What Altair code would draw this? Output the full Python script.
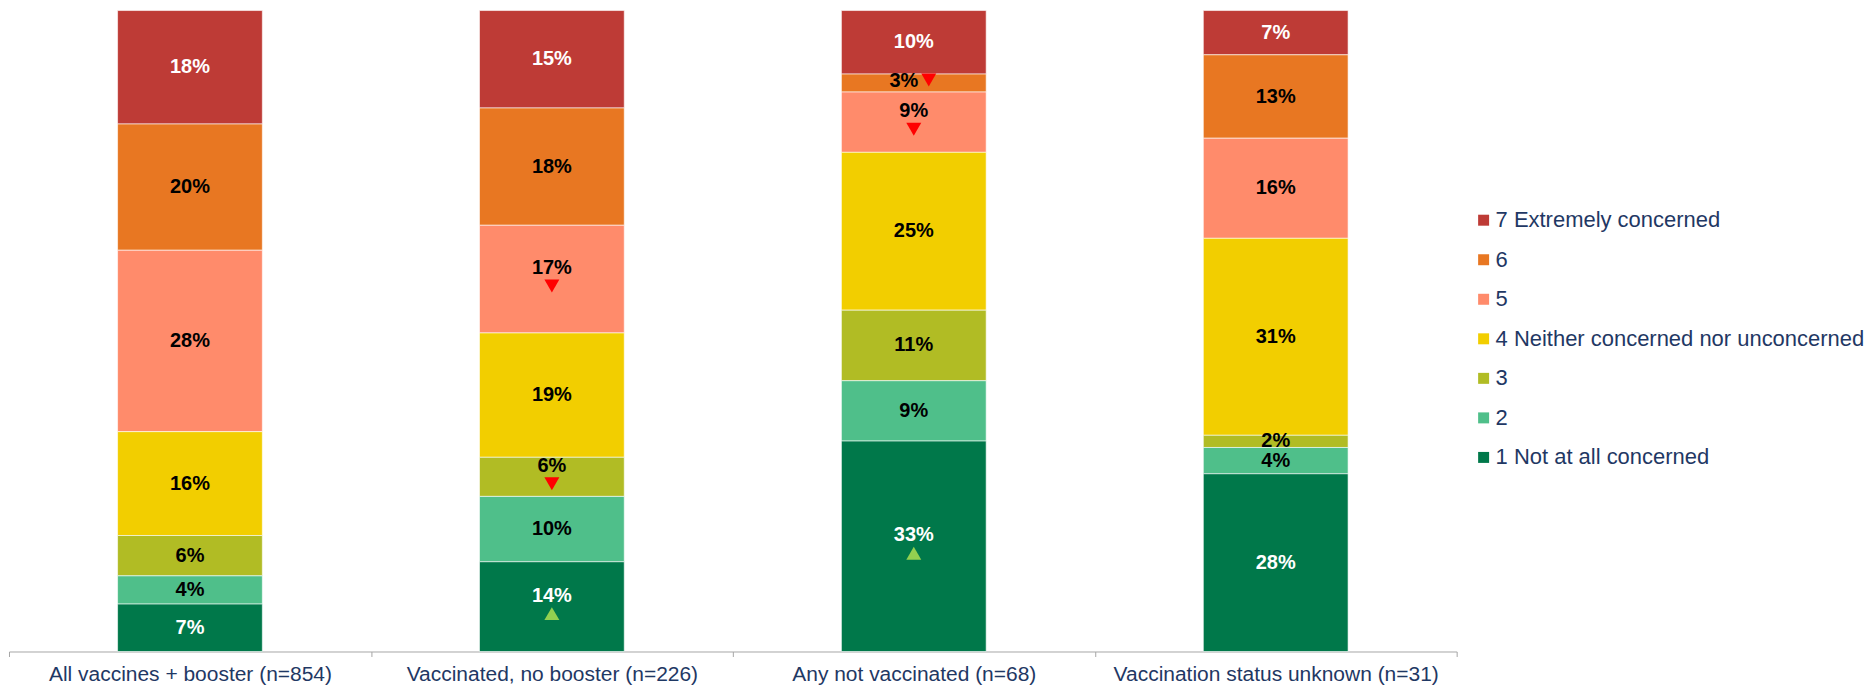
import altair as alt
import pandas as pd

groups = [
    "All vaccines + booster (n=854)",
    "Vaccinated, no booster (n=226)",
    "Any not vaccinated (n=68)",
    "Vaccination status unknown (n=31)",
]
levels = [7, 6, 5, 4, 3, 2, 1]
level_labels = [
    "7 Extremely concerned",
    "6",
    "5",
    "4 Neither concerned nor unconcerned",
    "3",
    "2",
    "1 Not at all concerned",
]
colors = ["#BE3B36", "#E87722", "#FF8B6B", "#F2CE00", "#B1BC24", "#4FBF8A", "#00784A"]

# percentages per group, ordered level 7 .. 1
pct_booster = [17.7, 19.7, 28.3, 16.2, 6.3, 4.4, 7.4]
pct_no_booster = [15.2, 18.3, 16.8, 19.4, 6.1, 10.2, 14.0]
pct_not_vacc = [9.9, 2.8, 9.4, 24.6, 11.0, 9.4, 32.8]
pct_unknown = [6.9, 13.0, 15.6, 30.7, 1.9, 4.1, 27.7]

# significance markers, ordered level 7 .. 1
mk_booster = ["", "", "", "", "", "", ""]
mk_no_booster = ["", "", "down", "", "down", "", "up"]
mk_not_vacc = ["", "down", "down", "", "", "", "up"]
mk_unknown = ["", "", "", "", "", "", ""]

rows = []
for g, vals, mks in zip(
    groups,
    [pct_booster, pct_no_booster, pct_not_vacc, pct_unknown],
    [mk_booster, mk_no_booster, mk_not_vacc, mk_unknown],
):
    for lv, lab, v, m in zip(levels, level_labels, vals, mks):
        rows.append({"group": g, "level": lv, "level_label": lab, "pct": v, "marker": m})
df = pd.DataFrame(rows)

FONT = "Liberation Sans"
NAVY = "#1F3864"

base = (
    alt.Chart(df)
    .transform_stack(
        stack="pct",
        groupby=["group"],
        as_=["y0", "y1"],
        offset="normalize",
        sort=[alt.SortField("level", order="ascending")],
    )
    .transform_calculate(
        mid="(datum.y0 + datum.y1) / 2", label="round(datum.pct) + '%'"
    )
    .encode(
        x=alt.X(
            "group:N",
            sort=groups,
            scale=alt.Scale(paddingInner=0, paddingOuter=0),
            axis=alt.Axis(
                title=None,
                labelAngle=0,
                tickBand="extent",
                labelFont=FONT,
                labelFontSize=21,
                labelColor=NAVY,
                labelPadding=7,
                domainColor="#A6A6A6",
                tickColor="#A6A6A6",
                tickSize=5,
                labelLimit=400,
            ),
        )
    )
)

yscale = alt.Scale(domain=[0, 1], nice=False)

bars = base.mark_bar(width=alt.RelativeBandSize(0.4), stroke="white", strokeWidth=0.6).encode(
    y=alt.Y("y0:Q", scale=yscale, axis=None),
    y2="y1:Q",
    color=alt.Color(
        "level_label:N",
        scale=alt.Scale(domain=level_labels, range=colors),
        legend=alt.Legend(
            title=None,
            orient="none",
            legendX=1466,
            legendY=199,
            symbolType="square",
            symbolSize=121,
            symbolStrokeWidth=0,
            labelFont=FONT,
            labelFontSize=22,
            labelColor=NAVY,
            labelLimit=600,
            labelOffset=1,
            rowPadding=17.6,
            padding=0,
        ),
    ),
)

text_color = alt.condition(
    "datum.level == 7 || datum.level == 1", alt.value("white"), alt.value("black")
)

txt_kw = dict(font=FONT, fontSize=20, fontWeight="bold", baseline="middle", align="center")

plain = base.transform_filter("datum.marker == ''").mark_text(**txt_kw).encode(
    y=alt.Y("mid:Q", scale=yscale, axis=None), text="label:N", color=text_color
)

marked_big = base.transform_filter("datum.marker != '' && datum.pct >= 5").mark_text(
    dy=-11, **txt_kw
).encode(y=alt.Y("mid:Q", scale=yscale, axis=None), text="label:N", color=text_color)

marked_small = base.transform_filter("datum.marker != '' && datum.pct < 5").mark_text(
    dx=-10, dy=-2, **txt_kw
).encode(y=alt.Y("mid:Q", scale=yscale, axis=None), text="label:N", color=text_color)

tri_fill = alt.condition("datum.marker == 'down'", alt.value("#FF0000"), alt.value("#92D050"))
tri_shape = alt.Shape(
    "marker:N",
    scale=alt.Scale(domain=["down", "up"], range=["triangle-down", "triangle-up"]),
    legend=None,
)

tri_big = base.transform_filter("datum.marker != '' && datum.pct >= 5").mark_point(
    filled=True, size=225, opacity=1, yOffset=7, strokeWidth=0
).encode(y=alt.Y("mid:Q", scale=yscale, axis=None), shape=tri_shape, fill=tri_fill)

tri_small = base.transform_filter("datum.marker != '' && datum.pct < 5").mark_point(
    filled=True, size=225, opacity=1, xOffset=15, yOffset=-3, strokeWidth=0
).encode(y=alt.Y("mid:Q", scale=yscale, axis=None), shape=tri_shape, fill=tri_fill)

chart = (
    alt.layer(bars, plain, marked_big, marked_small, tri_big, tri_small)
    .properties(width=1450, height=642, padding={"left": 0, "top": 1, "right": 0, "bottom": 0})
    .configure_view(stroke=None)
)

chart.save("out.html", embed_options={"renderer": "svg", "actions": False})
